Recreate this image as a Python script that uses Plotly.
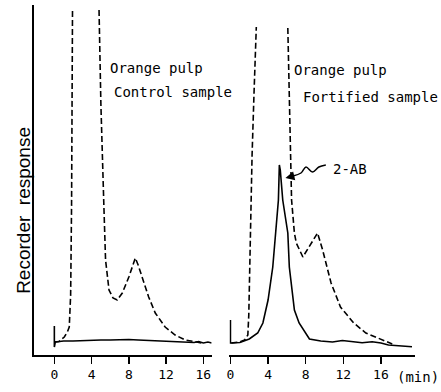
import plotly.graph_objects as go

# ---- data (time in min, recorder response in arbitrary units) ----
# Left panel: control sample
ctrl_solid_t = [0, 0, 0.1, 0.5, 1, 2, 3, 4, 5, 6, 7, 8, 9, 10, 11, 12, 13, 14, 15, 15.5, 16, 16.5, 16.9]
ctrl_solid_r = [29, 8, 13, 13.5, 14, 14, 14.5, 15, 15, 15, 15.5, 15.5, 15, 14.5, 14, 13.5, 13, 13, 12.5, 13.5, 12, 13, 12]

ctrl_dash_t1 = [0, 0.5, 1.07, 1.4, 1.6, 1.75, 1.85, 1.95]
ctrl_dash_r1 = [13, 13.5, 18, 23, 28, 60, 150, 345]
ctrl_dash_t2 = [4.8, 5.0, 5.3, 5.5, 5.87, 6.3, 6.75, 7.3, 8.0, 8.4, 8.7, 9.0, 9.42, 10.13, 10.84, 11.9, 12.97, 14.04, 15.0, 15.8]
ctrl_dash_r2 = [345, 250, 155, 95, 65, 57, 55, 62, 78, 90, 97, 90, 78, 58, 42, 28, 20, 15, 13.5, 12]

# Right panel: fortified sample
fort_solid_t = [0, 0, 0.1, 1, 2, 2.9, 3.45, 4.0, 4.5, 4.8, 5.1, 5.2, 5.3, 5.56, 6.1, 6.26, 6.62, 6.8, 7.3, 8.4, 9.6, 10.85, 11.9, 13, 14, 15.07, 16, 16.8, 18, 19.3]
fort_solid_r = [35, 12, 12, 12.5, 16, 22, 32, 55, 88, 122, 155, 190, 185, 155, 122, 88, 55, 45, 32, 16, 14, 13, 14.5, 13, 12.3, 13.3, 12, 10, 9.5, 8.3]

fort_dash_t1 = [0.1, 1.0, 1.5, 1.85, 1.95, 2.1, 2.3, 2.5, 2.75]
fort_dash_r1 = [12, 13, 15, 20, 40, 120, 200, 260, 328]
fort_dash_t2 = [6.1, 6.5, 6.8, 7.0, 7.7, 8.5, 9.26, 9.8, 10.7, 11.7, 13.1, 14.4, 16.1, 17.2]
fort_dash_r2 = [327, 155, 122, 112, 98, 110, 122, 105, 72, 48, 32, 22, 15, 11]

# hand-drawn pointer for the 2-AB label (right panel, data units)
arrow_t = [10.14, 9.4, 8.73, 8.03, 7.5, 6.65]
arrow_r = [190, 188, 183, 188, 182, 179]

x_ticks = [0, 4, 8, 12, 16]
x_tick_labels = ["0", "4", "8", "12", "16"]

W, H = 441, 392
MONO = "DejaVu Sans Mono"

fig = go.Figure()
solid = dict(color="black", width=1.6)
dashed = dict(color="black", width=1.6, dash="6px,3px")

fig.add_trace(go.Scatter(x=ctrl_solid_t, y=ctrl_solid_r, mode="lines", line=solid, xaxis="x", yaxis="y"))
fig.add_trace(go.Scatter(x=ctrl_dash_t1, y=ctrl_dash_r1, mode="lines", line=dashed, xaxis="x", yaxis="y"))
fig.add_trace(go.Scatter(x=ctrl_dash_t2, y=ctrl_dash_r2, mode="lines", line=dashed, xaxis="x", yaxis="y"))
fig.add_trace(go.Scatter(x=fort_solid_t, y=fort_solid_r, mode="lines", line=solid, xaxis="x2", yaxis="y2"))
fig.add_trace(go.Scatter(x=fort_dash_t1, y=fort_dash_r1, mode="lines", line=dashed, xaxis="x2", yaxis="y2"))
fig.add_trace(go.Scatter(x=fort_dash_t2, y=fort_dash_r2, mode="lines", line=dashed, xaxis="x2", yaxis="y2"))
fig.add_trace(go.Scatter(x=arrow_t, y=arrow_r, mode="lines", line=dict(color="black", width=1.5, shape="spline"),
                         xaxis="x2", yaxis="y2"))

px_per_min_l = 9.375
px_per_min_r = 9.47
l0, l1 = 31, 210
r0, r1 = 228, 415
zero_l, zero_r = 51.7, 229

ydom = [1 - 355 / H, 1 - 5 / H]
common_x = dict(showline=True, linecolor="black", linewidth=1.5, ticks="outside", ticklen=7,
                tickwidth=1.5, tickcolor="black", showgrid=False, zeroline=False,
                tickvals=x_ticks, ticktext=x_tick_labels,
                tickfont=dict(family=MONO, size=13, color="black"))

fig.update_layout(
    width=W, height=H, margin=dict(l=0, r=0, t=0, b=0),
    paper_bgcolor="white", plot_bgcolor="white", showlegend=False, hovermode=False,
    xaxis=dict(domain=[l0 / W, l1 / W],
               range=[(l0 - zero_l) / px_per_min_l, (l1 - zero_l) / px_per_min_l],
               anchor="y", **common_x),
    xaxis2=dict(domain=[r0 / W, r1 / W],
                range=[(r0 - zero_r) / px_per_min_r, (r1 - zero_r) / px_per_min_r],
                anchor="y2", **common_x),
    yaxis=dict(domain=ydom, range=[0, 350], showline=True, linecolor="black", linewidth=1.5,
               showticklabels=False, ticks="", showgrid=False, zeroline=False, anchor="x"),
    yaxis2=dict(domain=ydom, range=[0, 350], visible=False, anchor="x2"),
)

def note(text, x, y, size=14, family=MONO, angle=0, xanchor="left"):
    fig.add_annotation(text=text, x=x / W, y=1 - y / H, xref="paper", yref="paper",
                       xanchor=xanchor, yanchor="middle", showarrow=False, textangle=angle,
                       font=dict(family=family, size=size, color="black"))

note("Orange pulp", 106, 68)
note("Control sample", 110, 92)
note("Orange pulp", 291, 70)
note("Fortified sample", 300, 97)
note("2-AB", 330, 169)
note("(min)", 395, 377, size=14)
note("Recorder  response", 20, 210, size=19, family="Liberation Sans", angle=-90, xanchor="center")

# arrow head pointing at the 2-AB peak
fig.add_annotation(x=5.85, y=177, ax=6.7, ay=179, xref="x2", yref="y2", axref="x2", ayref="y2",
                   showarrow=True, arrowhead=2, arrowsize=1.2, arrowwidth=1.5, arrowcolor="black", text="")

fig.write_html("out.html", config={"displayModeBar": False, "staticPlot": True},
               post_script="document.body.style.margin='0';document.body.style.overflow='hidden';")
